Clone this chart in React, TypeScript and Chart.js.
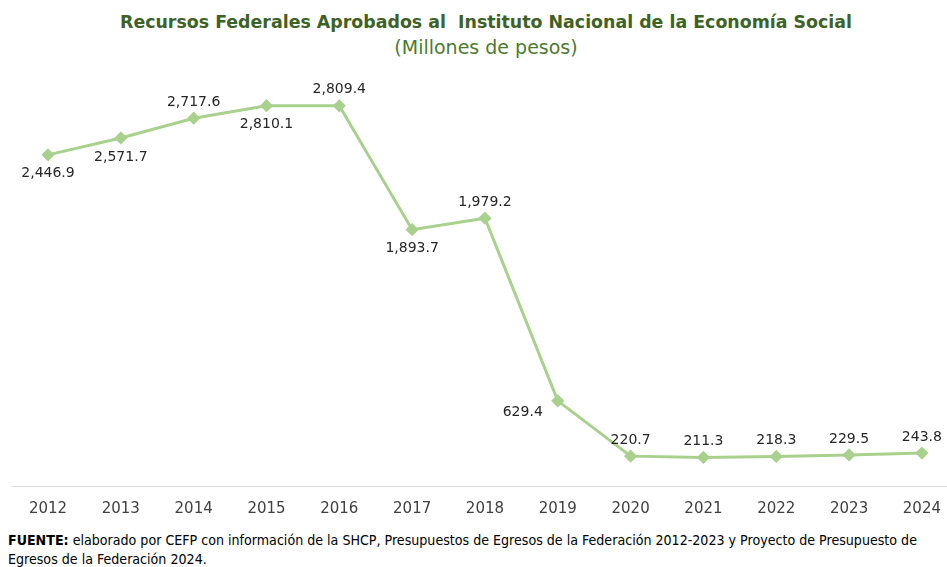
import React, { useEffect, useRef } from "react";
import { Chart, registerables } from "chart.js";

Chart.register(...registerables);

const years = ["2012", "2013", "2014", "2015", "2016", "2017", "2018", "2019", "2020", "2021", "2022", "2023", "2024"];
const values = [2446.9, 2571.7, 2717.6, 2810.1, 2809.4, 1893.7, 1979.2, 629.4, 220.7, 211.3, 218.3, 229.5, 243.8];
const labelPlacement = ["bottom", "bottom", "top", "bottom", "top", "bottom", "top", "left", "top", "top", "top", "top", "top"];

const LINE_COLOR = "#A9D18E";
const TEXT_COLOR = "#262626";

const fmt = (v: number) =>
  v.toLocaleString("en-US", { minimumFractionDigits: 1, maximumFractionDigits: 1 });

const baselinePlugin = {
  id: "baseline",
  beforeDatasetsDraw(chart: any) {
    const { ctx } = chart;
    const xs = chart.scales.x;
    const ys = chart.scales.y;
    const step = xs.getPixelForValue(1) - xs.getPixelForValue(0);
    const x0 = xs.getPixelForValue(0) - step / 2;
    const x1 = xs.getPixelForValue(years.length - 1) + step / 2;
    const y = Math.round(ys.getPixelForValue(0)) + 0.5;
    ctx.save();
    ctx.strokeStyle = "#D9D9D9";
    ctx.lineWidth = 1;
    ctx.beginPath();
    ctx.moveTo(x0, y);
    ctx.lineTo(x1, y);
    ctx.stroke();
    ctx.restore();
  },
};

const labelsPlugin = {
  id: "pointLabels",
  afterDatasetsDraw(chart: any) {
    const { ctx } = chart;
    const meta = chart.getDatasetMeta(0);
    ctx.save();
    ctx.font = "14px 'DejaVu Sans', sans-serif";
    ctx.fillStyle = TEXT_COLOR;
    meta.data.forEach((pt: any, i: number) => {
      const text = fmt(values[i]);
      const pos = labelPlacement[i];
      let x = pt.x;
      let y = pt.y;
      ctx.textAlign = "center";
      ctx.textBaseline = "middle";
      if (pos === "top") {
        y -= 16;
      } else if (pos === "bottom") {
        y += 19;
      } else if (pos === "left") {
        x -= 15;
        y += 12;
        ctx.textAlign = "right";
      }
      ctx.fillText(text, x, y);
    });
    ctx.restore();
  },
};

export default function App() {
  const canvasRef = useRef<HTMLCanvasElement | null>(null);

  useEffect(() => {
    document.body.style.margin = "0";
    const chart = new Chart(canvasRef.current as HTMLCanvasElement, {
      type: "line",
      data: {
        labels: years,
        datasets: [
          {
            data: values,
            borderColor: LINE_COLOR,
            backgroundColor: LINE_COLOR,
            borderWidth: 3,
            pointStyle: "rectRot",
            pointRadius: 4.5,
            pointBackgroundColor: LINE_COLOR,
            pointBorderColor: LINE_COLOR,
            tension: 0,
          },
        ],
      },
      options: {
        animation: false,
        responsive: false,
        maintainAspectRatio: false,
        layout: { padding: { left: 48, right: 25, top: 80, bottom: 0 } },
        plugins: {
          legend: { display: false },
          tooltip: { enabled: false },
          title: { display: false },
        },
        scales: {
          x: {
            offset: false,
            grid: { display: false },
            border: { display: false },
            ticks: {
              color: "#404040",
              font: { family: "'DejaVu Sans', sans-serif", size: 15 },
              padding: 6,
              maxRotation: 0,
              autoSkip: false,
            },
          },
          y: {
            display: false,
            min: 0,
            max: 3000,
          },
        },
      },
      plugins: [baselinePlugin, labelsPlugin],
    });
    return () => chart.destroy();
  }, []);

  return (
    <div style={{ position: "fixed", left: 0, top: 0, width: 947, height: 567, background: "#fff", overflow: "hidden" }}>
      <div
        style={{
          position: "absolute",
          left: 0,
          width: 947,
          top: 10,
          textAlign: "center",
          fontFamily: "'DejaVu Sans', sans-serif",
          fontWeight: "bold",
          fontSize: 17.4,
          color: "#3E6226",
          whiteSpace: "pre",
          lineHeight: "24px",
          paddingLeft: 25,
          boxSizing: "border-box",
        }}
      >
        {"Recursos Federales Aprobados al  Instituto Nacional de la Economía Social"}
      </div>
      <div
        style={{
          position: "absolute",
          left: 0,
          width: 947,
          top: 35,
          textAlign: "center",
          fontFamily: "'DejaVu Sans', sans-serif",
          fontSize: 19,
          color: "#4E7A30",
          lineHeight: "24px",
          paddingLeft: 25,
          boxSizing: "border-box",
        }}
      >
        (Millones de pesos)
      </div>
      <canvas ref={canvasRef} width={947} height={524} style={{ position: "absolute", left: 0, top: 0, width: 947, height: 524 }} />
      <div
        style={{
          position: "absolute",
          left: 8,
          top: 531,
          fontFamily: "'Liberation Sans Narrow', 'DejaVu Sans Condensed', 'Liberation Sans', sans-serif",
          fontSize: 14.1,
          color: "#000",
          lineHeight: "19px",
          whiteSpace: "nowrap",
        }}
      >
        <b>FUENTE:</b> elaborado por CEFP con información de la SHCP, Presupuestos de Egresos de la Federación 2012-2023 y Proyecto de Presupuesto de
        <br />
        Egresos de la Federación 2024.
      </div>
    </div>
  );
}
